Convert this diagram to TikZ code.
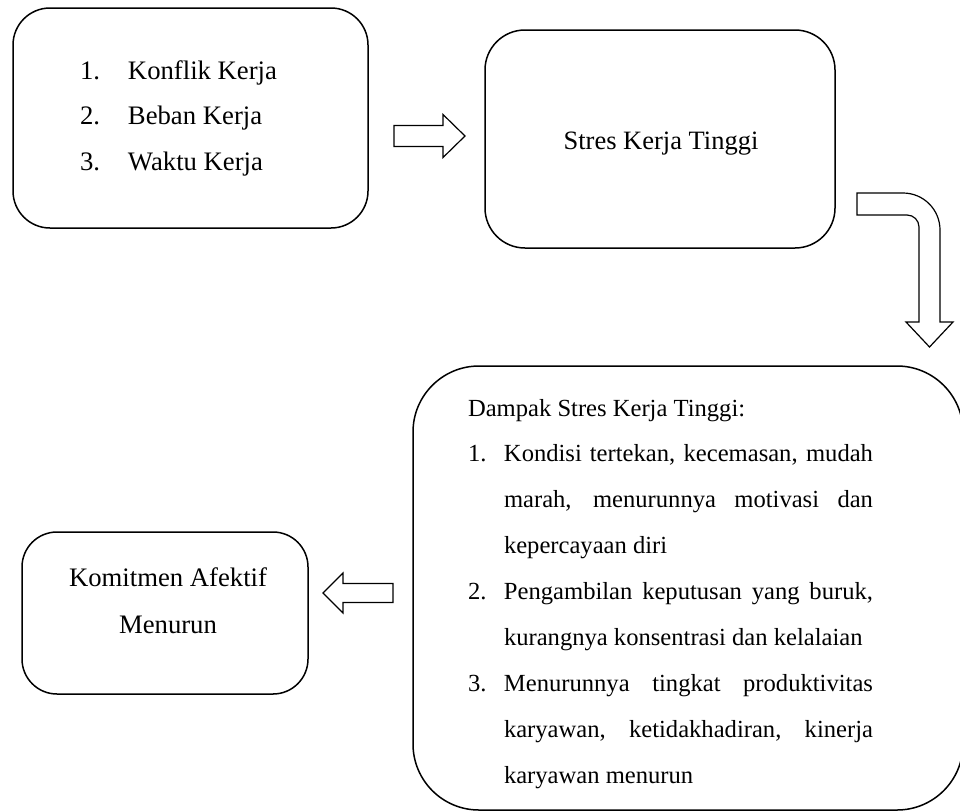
\documentclass[tikz,border=0pt]{standalone}
\usepackage{fontspec}
\setmainfont{Liberation Serif}
\begin{document}
\begin{tikzpicture}[x=1pt,y=-1pt,
  box/.style={draw,line width=1.5pt,rounded corners=#1,inner sep=0pt,outer sep=0pt},
  blockarrow/.style={draw,line width=1.2pt,fill=white,line join=miter},
  txt/.style={inner sep=0pt,outer sep=0pt}]
\useasboundingbox (0,0) rectangle (960,811);

% boxes
\node[box=37pt,minimum width=355pt,minimum height=220pt] (b1) at (190.5,118) {};
\node[box=40pt,minimum width=350pt,minimum height=218pt] (b2) at (660,139) {};
\node[box=66pt,minimum width=550pt,minimum height=444pt] (b3) at (688,588) {};
\node[box=35pt,minimum width=286pt,minimum height=162pt] (b4) at (165,613) {};

% texts
\node[txt,anchor=base west] (t1) at (80,79) {\parbox[t]{280pt}{\fontsize{26.7}{45.5}\selectfont
  \makebox[48pt][l]{1.}Konflik Kerja\\
  \makebox[48pt][l]{2.}Beban Kerja\\
  \makebox[48pt][l]{3.}Waktu Kerja}};

\node[txt,anchor=base] (t2) at (661,149) {\fontsize{26.5}{31}\selectfont Stres Kerja Tinggi};

\node[txt,anchor=base west] (t3) at (468,416) {\parbox[t]{420pt}{\fontsize{24.6}{45.9}\selectfont
  Dampak Stres Kerja Tinggi:\\
  \makebox[36pt][l]{1.}\makebox[369pt][s]{Kondisi tertekan, kecemasan, mudah}\\
  \hspace*{36pt}\makebox[369pt][s]{marah, menurunnya motivasi dan}\\
  \hspace*{36pt}kepercayaan diri\\
  \makebox[36pt][l]{2.}\makebox[369pt][s]{Pengambilan keputusan yang buruk,}\\
  \hspace*{36pt}kurangnya konsentrasi dan kelalaian\\
  \makebox[36pt][l]{3.}\makebox[369pt][s]{Menurunnya tingkat produktivitas}\\
  \hspace*{36pt}\makebox[369pt][s]{karyawan, ketidakhadiran, kinerja}\\
  \hspace*{36pt}karyawan menurun}};

\node[txt,anchor=base] (t4) at (168,586) {\parbox[t]{280pt}{\centering\fontsize{26.7}{47}\selectfont
  Komitmen Afektif\\Menurun}};

% block arrows
\draw[blockarrow] (394,125.5) -- (443,125.5) -- (443,114.5) -- (465,136) -- (443,157.5) -- (443,146.5) -- (394,146.5) -- cycle;
\draw[blockarrow] (857,193) -- (903,193) arc[start angle=-90,end angle=0,radius=37] -- (940,322) -- (953,322) -- (929.5,347) -- (906,322) -- (919,322) -- (919,227) arc[start angle=0,end angle=-90,radius=12] -- (857,215) -- cycle;
\draw[blockarrow] (393,583.5) -- (343,583.5) -- (343,573) -- (323,593) -- (343,613) -- (343,602.5) -- (393,602.5) -- cycle;
\end{tikzpicture}
\end{document}
